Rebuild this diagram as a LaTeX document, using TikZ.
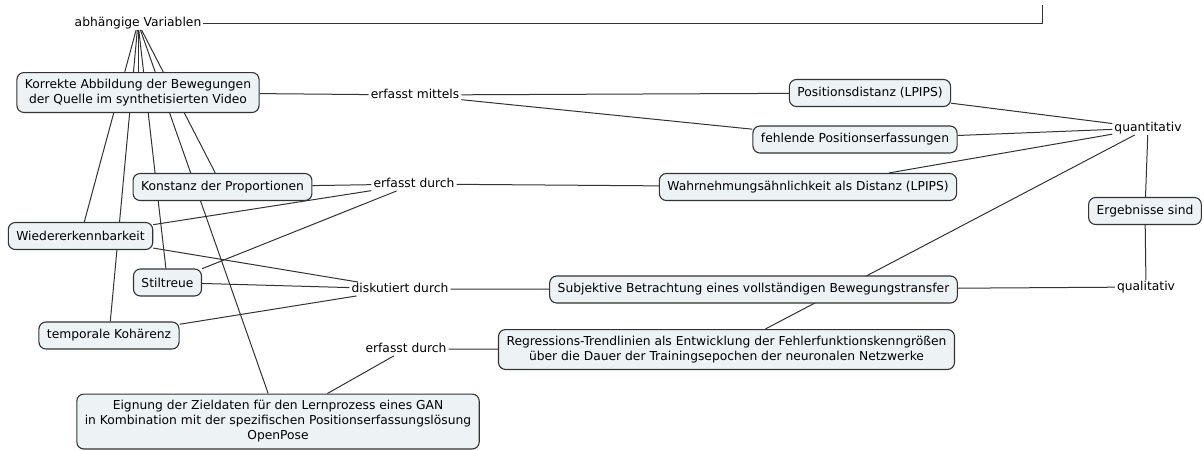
\documentclass[tikz,border=0pt]{standalone}
\usepackage{fontspec}
\setmainfont{DejaVu Sans}
\usetikzlibrary{backgrounds}
\definecolor{boxfill}{HTML}{EDF3F5}
\definecolor{ink}{HTML}{333333}
\begin{document}
\begin{tikzpicture}[x=1pt,y=-1pt,
  concept/.style={draw=ink, line width=1.1pt, fill=boxfill, rounded corners=7pt,
    inner xsep=8pt, inner ysep=6.5pt, minimum height=27pt, align=center,
    font=\fontsize{12.3}{15}\selectfont},
  phrase/.style={inner xsep=2pt, inner ysep=1pt, text height=9pt, text depth=2.5pt,
    font=\fontsize{12.3}{15}\selectfont},
  link/.style={draw=ink, line width=1pt}]
\useasboundingbox (0,0) rectangle (1204,450);

% concepts
\node[concept] (korrekt) at (138,92.5) {Korrekte Abbildung der Bewegungen\\der Quelle im synthetisierten Video};
\node[concept] (konstanz) at (222.5,187) {Konstanz der Proportionen};
\node[concept] (wieder) at (80.5,236) {Wiedererkennbarkeit};
\node[concept] (stil) at (167.5,282.5) {Stiltreue};
\node[concept] (temporal) at (109,335.5) {temporale Kohärenz};
\node[concept] (eignung) at (278,421.5) {Eignung der Zieldaten für den Lernprozess eines GAN\\in Kombination mit der spezifischen Positionserfassungslösung\\OpenPose};
\node[concept] (posdist) at (870,93) {Positionsdistanz (LPIPS)};
\node[concept] (fehlend) at (855,139.5) {fehlende Positionserfassungen};
\node[concept] (wahrn) at (808,187) {Wahrnehmungsähnlichkeit als Distanz (LPIPS)};
\node[concept] (subj) at (753.5,289.5) {Subjektive Betrachtung eines vollständigen Bewegungstransfer};
\node[concept] (regr) at (726.5,349.5) {Regressions-Trendlinien als Entwicklung der Fehlerfunktionskenngrößen\\über die Dauer der Trainingsepochen der neuronalen Netzwerke};
\node[concept] (ergeb) at (1145,211) {Ergebnisse sind};

% linking phrases
\node[phrase] (abh) at (138,23) {abhängige Variablen};
\node[phrase] (mittels) at (415,95) {erfasst mittels};
\node[phrase] (durchA) at (414,184) {erfasst durch};
\node[phrase] (disk) at (400,289) {diskutiert durch};
\node[phrase] (durchB) at (406,349) {erfasst durch};
\node[phrase] (quant) at (1148,128) {quantitativ};
\node[phrase] (qual) at (1146,287) {qualitativ};
\coordinate (up) at (1042,5);

\begin{scope}[on background layer]
  % from the dependent-variable phrase
  \draw[link] (abh.east) -| (up);
  \foreach \t in {korrekt,wieder,temporal,stil,eignung,konstanz}
    \draw[link] (abh) -- (\t);
  % measured by
  \draw[link] (korrekt) -- (mittels);
  \draw[link] (mittels) -- (posdist);
  \draw[link] (mittels) -- (fehlend);
  \draw[link] (konstanz) -- (durchA);
  \draw[link] (wieder) -- (durchA);
  \draw[link] (stil) -- (durchA);
  \draw[link] (durchA) -- (wahrn);
  % discussed by
  \draw[link] (wieder) -- (disk);
  \draw[link] (stil) -- (disk);
  \draw[link] (temporal) -- (disk);
  \draw[link] (disk) -- (subj);
  \draw[link] (regr) -- (durchB);
  \draw[link] (durchB) -- (eignung);
  % result types
  \draw[link] (posdist) -- (quant);
  \draw[link] (fehlend) -- (quant);
  \draw[link] (wahrn) -- (quant);
  \draw[link] (quant) -- (regr);
  \draw[link] (subj) -- (qual);
  \draw[link] (quant) -- (ergeb);
  \draw[link] (ergeb) -- (qual);
\end{scope}
\end{tikzpicture}
\end{document}
